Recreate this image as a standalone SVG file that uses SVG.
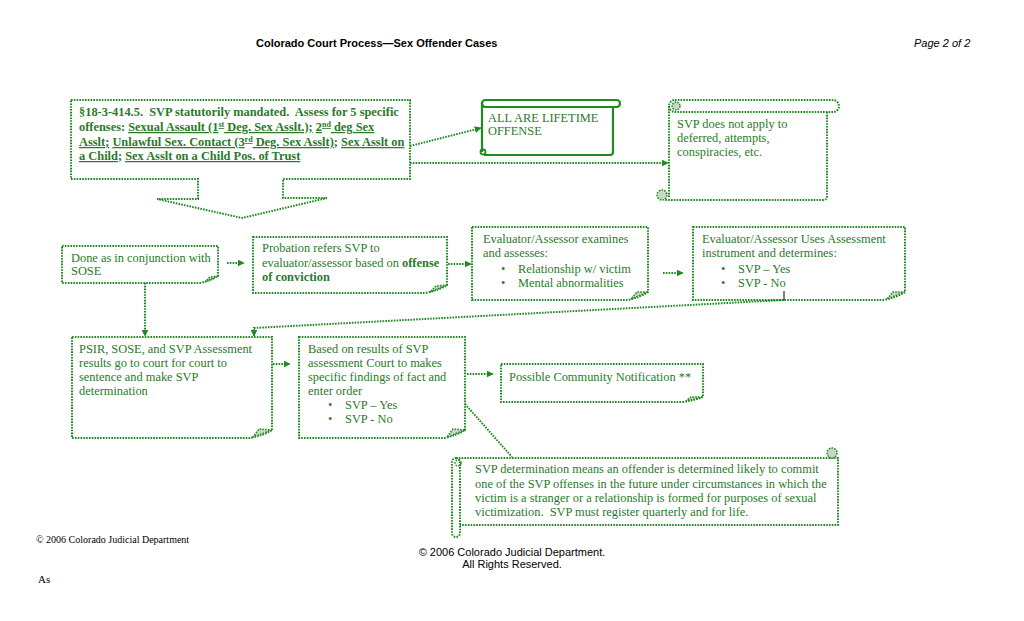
<svg xmlns="http://www.w3.org/2000/svg" width="1024" height="621" viewBox="0 0 1024 621">
<style>
.bx{fill:none;stroke:#1f8a1f;stroke-width:2;stroke-dasharray:1.6 1.2}
.sol{fill:none;stroke:#1f8a1f;stroke-width:2.2}
.fold{fill:#c9d6c9;stroke:#1f8a1f;stroke-width:1.5;stroke-dasharray:1.6 1.2}
.ln{fill:none;stroke:#1f8a1f;stroke-width:2;stroke-dasharray:1.6 1.2}
.t{font-family:"Liberation Serif","Times New Roman",serif;font-size:12.4px;fill:#2a7a2a}
.b{font-weight:bold}
.u{text-decoration:underline}
.hd{font-family:"Liberation Sans",Arial,sans-serif;font-size:11px;fill:#000}
</style>
<defs>
<marker id="ah2" viewBox="0 0 10 10" refX="9" refY="5" markerWidth="7" markerHeight="7" orient="auto" markerUnits="userSpaceOnUse">
<path d="M0,0 L10,5 L0,10 Z" fill="#1f8a1f"/>
</marker>
</defs>
<rect width="1024" height="621" fill="#fff"/>
<text class="hd" x="256" y="47" style="font-weight:bold">Colorado Court Process—Sex Offender Cases</text>
<text class="hd" x="914" y="47" font-style="italic">Page 2 of 2</text>

<g id="statute">
<path class="bx" d="M71,100 H410 V179 H283 V198 H327 L242,218 L157,199 H198 V179 H71 Z"/>
<text class="t b" x="79" y="116" xml:space="preserve">§18-3-414.5.  SVP statutorily mandated.  Assess for 5 specific</text>
<text class="t b" x="79" y="131">offenses: <tspan class="u">Sexual Assault (1<tspan font-size="8" baseline-shift="super">st</tspan> Deg. Sex Asslt.);</tspan> <tspan class="u">2<tspan font-size="8" baseline-shift="super">nd</tspan> deg Sex</tspan></text>
<text class="t b" x="79" y="146"><tspan class="u">Asslt;</tspan> <tspan class="u">Unlawful Sex. Contact (3<tspan font-size="8" baseline-shift="super">rd</tspan> Deg. Sex Asslt)</tspan>; <tspan class="u">Sex Asslt on</tspan></text>
<text class="t b" x="79" y="160"><tspan class="u">a Child</tspan>; <tspan class="u">Sex Asslt on a Child Pos. of Trust</tspan></text>
</g>

<g id="lifetime">
<rect class="sol" x="482" y="100" width="138" height="7" rx="3.5"/>
<path class="sol" d="M482,103 V152 M613,107 V152 Q613,155 610,155 H484"/>
<circle cx="483" cy="152" r="2.5" fill="none" stroke="#1f8a1f" stroke-width="1.8"/>
<text class="t" x="488" y="122">ALL ARE LIFETIME</text>
<text class="t" x="488" y="135">OFFENSE</text>
</g>

<g id="notapply">
<rect class="bx" x="669" y="100" width="170" height="12" rx="6"/>
<path class="bx" d="M669,106 V197 M827,112 V196 Q827,200 823,200 H664"/>
<circle cx="676" cy="106" r="4" fill="#c9d6c9" stroke="#1f8a1f" stroke-width="1.5" stroke-dasharray="1.6 1.2"/>
<circle cx="662" cy="195" r="5" fill="#c9d6c9" stroke="#1f8a1f" stroke-width="1.5" stroke-dasharray="1.6 1.2"/>
<text class="t" x="677" y="128">SVP does not apply to</text>
<text class="t" x="677" y="142">deferred, attempts,</text>
<text class="t" x="677" y="156">conspiracies, etc.</text>
</g>

<g id="sose">
<path class="bx" d="M62,246 H218 V276 Q212,280 200,283 H62 Z"/>
<path class="fold" d="M218,276 L205,282 L210,277 Z"/>
<text class="t" x="71" y="262">Done as in conjunction with</text>
<text class="t" x="71" y="275">SOSE</text>
</g>

<g id="probation">
<path class="bx" d="M253,237 H447 V285 Q440,290 425,293 H253 Z"/>
<path class="fold" d="M447,285 L430,292 L436,286 Z"/>
<text class="t" x="262" y="252">Probation refers SVP to</text>
<text class="t" x="262" y="267">evaluator/assessor based on <tspan class="b">offense</tspan></text>
<text class="t b" x="262" y="281">of conviction</text>
</g>

<g id="examines">
<path class="bx" d="M472,227 H648 V292 Q641,297 628,300 H472 Z"/>
<path class="fold" d="M648,292 L631,299 L637,292 Z"/>
<text class="t" x="483" y="243">Evaluator/Assessor examines</text>
<text class="t" x="483" y="257">and assesses:</text>
<text class="t" x="501" y="273">•</text><text class="t" x="518" y="273">Relationship w/ victim</text>
<text class="t" x="501" y="287">•</text><text class="t" x="518" y="287">Mental abnormalities</text>
</g>

<g id="instrument">
<path class="bx" d="M693,227 H905 V292 Q898,297 884,300 H693 Z"/>
<path class="fold" d="M905,292 L887,299 L893,292 Z"/>
<text class="t" x="702" y="243">Evaluator/Assessor Uses Assessment</text>
<text class="t" x="702" y="257">instrument and determines:</text>
<text class="t" x="721" y="273">•</text><text class="t" x="738" y="273">SVP – Yes</text>
<text class="t" x="721" y="287">•</text><text class="t" x="738" y="287">SVP - No</text>
<line x1="784" y1="291" x2="784" y2="300" stroke="#000" stroke-width="1"/>
</g>

<g id="psir">
<path class="bx" d="M72,337 H272 V430 Q265,435 250,438 H72 Z"/>
<path class="fold" d="M272,430 L253,437 L259,429 Z"/>
<text class="t" x="79" y="353">PSIR, SOSE, and SVP Assessment</text>
<text class="t" x="79" y="367">results go to court for court to</text>
<text class="t" x="79" y="381">sentence and make SVP</text>
<text class="t" x="79" y="395">determination</text>
</g>

<g id="court">
<path class="bx" d="M299,337 H465 V430 Q458,435 444,438 H299 Z"/>
<path class="fold" d="M465,430 L447,437 L453,429 Z"/>
<text class="t" x="308" y="353">Based on results of SVP</text>
<text class="t" x="308" y="367">assessment Court to makes</text>
<text class="t" x="308" y="381">specific findings of fact and</text>
<text class="t" x="308" y="395">enter order</text>
<text class="t" x="328" y="409">•</text><text class="t" x="345" y="409">SVP – Yes</text>
<text class="t" x="328" y="423">•</text><text class="t" x="345" y="423">SVP - No</text>
</g>

<g id="notification">
<path class="bx" d="M501,364 H703 V397 Q696,400 682,402 H501 Z"/>
<path class="fold" d="M703,397 L686,401 L691,397 Z"/>
<text class="t" x="509" y="381">Possible Community Notification **</text>
</g>

<g id="determination">
<rect class="bx" x="452" y="458" width="8" height="79" rx="4"/>
<path class="bx" d="M456,458 H838 V525 H460"/>
<circle cx="458" cy="463" r="3" fill="none" stroke="#1f8a1f" stroke-width="1.5" stroke-dasharray="1.6 1.2"/>
<circle cx="832" cy="453" r="5" fill="#c9d6c9" stroke="#1f8a1f" stroke-width="1.5" stroke-dasharray="1.6 1.2"/>
<text class="t" x="475" y="473">SVP determination means an offender is determined likely to commit</text>
<text class="t" x="475" y="488">one of the SVP offenses in the future under circumstances in which the</text>
<text class="t" x="475" y="502">victim is a stranger or a relationship is formed for purposes of sexual</text>
<text class="t" x="475" y="516" xml:space="preserve">victimization.  SVP must register quarterly and for life.</text>
</g>

<g id="connectors">
<line class="ln" x1="410" y1="146" x2="481" y2="128" marker-end="url(#ah2)"/>
<line class="ln" x1="410" y1="163" x2="668" y2="163" marker-end="url(#ah2)"/>
<line class="ln" x1="227" y1="263" x2="244" y2="263" marker-end="url(#ah2)"/>
<line class="ln" x1="448" y1="264" x2="471" y2="264" marker-end="url(#ah2)"/>
<line class="ln" x1="663" y1="273" x2="683" y2="273" marker-end="url(#ah2)"/>
<line class="ln" x1="145" y1="283" x2="145" y2="336" marker-end="url(#ah2)"/>
<path class="ln" d="M784,300 L254,328 V336" marker-end="url(#ah2)"/>
<line class="ln" x1="273" y1="364" x2="290" y2="364" marker-end="url(#ah2)"/>
<line class="ln" x1="467" y1="374" x2="493" y2="374" marker-end="url(#ah2)"/>
<line class="ln" x1="465" y1="404" x2="512" y2="457"/>
</g>

<text x="36" y="543" font-family="Liberation Serif,serif" font-size="10" fill="#000">© 2006 Colorado Judicial Department</text>
<text class="hd" x="512" y="556" text-anchor="middle">© 2006 Colorado Judicial Department.</text>
<text class="hd" x="512" y="568" text-anchor="middle">All Rights Reserved.</text>
<text x="38" y="583" font-family="Liberation Serif,serif" font-size="11" fill="#000">As</text>
</svg>
